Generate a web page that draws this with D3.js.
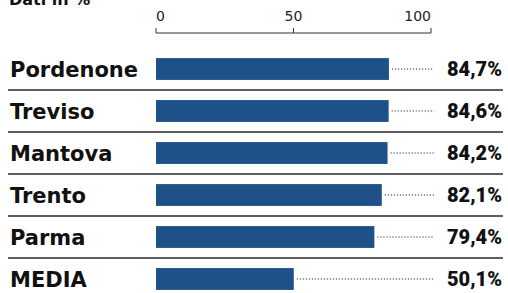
<!DOCTYPE html>
<html>
<head>
<meta charset="utf-8">
<script src="https://cdn.jsdelivr.net/npm/d3@7"></script>
<style>
	body { margin: 0; background: #fff; }
	svg { display: block; font-family: "Roboto", "Liberation Sans", sans-serif; }
</style>
</head>
<body>
<svg id="chart" width="508" height="293"></svg>
<script>
// data
const categories = ["Pordenone", "Treviso", "Mantova", "Trento", "Parma", "MEDIA"];
const values = [84.7, 84.6, 84.2, 82.1, 79.4, 50.1];
const valueLabels = ["84,7%", "84,6%", "84,2%", "82,1%", "79,4%", "50,1%"];
const tickValues = [0, 50, 100];
const title = "Dati in %";

const svg = d3.select("#chart");

const x = d3.scaleLinear().domain([0, 100]).range([156, 431]);
const y = d3.scaleBand().domain(categories).range([48, 300]).paddingInner(0.48).paddingOuter(0.24);

// title, mostly cut off at the top (as in the print)
svg.append("text")
	.attr("x", 9).attr("y", 5)
	.style("font-family", "DejaVu Sans").style("font-size", "16px").style("font-weight", "700")
	.attr("fill", "#111")
	.text(title);

// axis
const axis = svg.append("g").attr("transform", "translate(0,33)");
axis.append("line")
	.attr("x1", x(0)).attr("x2", x(100))
	.attr("stroke", "#333").attr("stroke-width", 1);
axis.selectAll("line.tick").data(tickValues).join("line")
	.attr("class", "tick")
	.attr("x1", d => x(d)).attr("x2", d => x(d))
	.attr("y1", 0).attr("y2", -5)
	.attr("stroke", "#333");
axis.selectAll("text").data(tickValues).join("text")
	.attr("x", d => x(d))
	.attr("y", -12)
	.attr("text-anchor", (d, i) => i == 0 ? "start" : (i == tickValues.length - 1 ? "end" : "middle"))
	.style("font-family", "DejaVu Sans").style("font-size", "14px")
	.attr("fill", "#222")
	.text(d => d);

// separators between rows
svg.selectAll("line.sep").data(categories.slice(1)).join("line")
	.attr("class", "sep")
	.attr("x1", 8).attr("x2", 503)
	.attr("y1", d => y(d) - (y.step() - y.bandwidth()) / 2)
	.attr("y2", d => y(d) - (y.step() - y.bandwidth()) / 2)
	.attr("stroke", "#2a2a2a").attr("stroke-width", 1.4);

const rows = svg.selectAll("g.row").data(categories).join("g")
	.attr("class", "row")
	.attr("transform", d => `translate(0,${y(d)})`);

// leader dots
rows.append("line")
	.attr("x1", (d, i) => x(values[i]) + 3)
	.attr("x2", 434)
	.attr("y1", y.bandwidth() / 2).attr("y2", y.bandwidth() / 2)
	.attr("stroke", "#333").attr("stroke-width", 1)
	.attr("stroke-dasharray", "1.2,1.8");

rows.append("rect")
	.attr("x", x(0))
	.attr("width", (d, i) => x(values[i]) - x(0))
	.attr("height", y.bandwidth())
	.attr("fill", "#1f5189");

rows.append("text")
	.attr("x", 10)
	.attr("y", y.bandwidth() / 2)
	.attr("dy", "0.36em")
	.style("font-family", "DejaVu Sans").style("font-size", "21px").style("font-weight", "700")
	.attr("fill", "#111")
	.text(d => d);

rows.append("text")
	.attr("x", 502)
	.attr("y", y.bandwidth() / 2)
	.attr("dy", "0.36em")
	.attr("text-anchor", "end")
	.style("font-size", "20px").style("font-weight", "900")
	.attr("fill", "#111")
	.text((d, i) => valueLabels[i]);
</script>
</body>
</html>
